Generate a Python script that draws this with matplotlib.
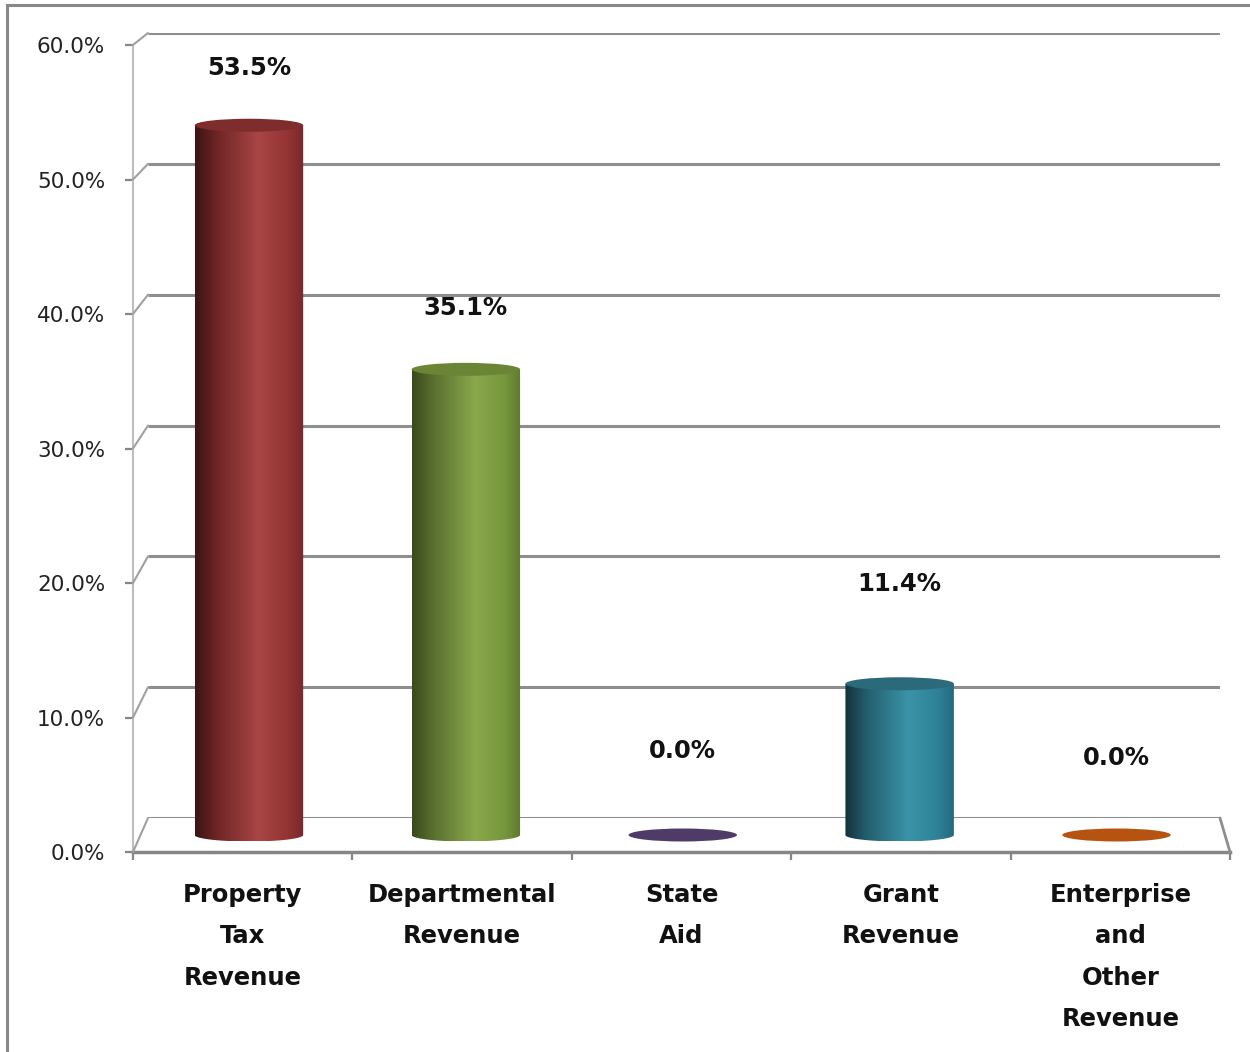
import numpy as np
import matplotlib
matplotlib.use("Agg")
import matplotlib.pyplot as plt
from matplotlib.colors import LinearSegmentedColormap
from matplotlib.patches import Ellipse, Polygon, ConnectionPatch
from matplotlib.lines import Line2D

# revenue share by source
categories = ["Property\nTax\nRevenue", "Departmental\nRevenue", "State\nAid",
              "Grant\nRevenue", "Enterprise\nand\nOther\nRevenue"]
shares = [53.5, 35.1, 0.0, 11.4, 0.0]
y_ticks = [0, 10, 20, 30, 40, 50, 60]

# side shading of each cylinder: dark left edge -> highlight -> right edge
shades = [
    ["#3a1414", "#6e2525", "#a94545", "#943434", "#7a2828"],
    ["#3a4a1c", "#5a7030", "#8aa84c", "#77973c", "#607a30"],
    ["#4e3b68", "#4e3b68", "#4e3b68", "#4e3b68", "#4e3b68"],
    ["#14323c", "#245e6e", "#3a93a8", "#2e8298", "#256a7c"],
    ["#b65310", "#b65310", "#b65310", "#b65310", "#b65310"],
]
cap_colors = ["#7f2c2c", "#6a8536", "#4e3b68", "#2a6a7a", "#b65310"]
label_pad = [4.3, 4.6, 6.3, 7.5, 5.8]

W, H = 1250, 1052
fig = plt.figure(figsize=(W / 100, H / 100), dpi=100)
fig.patch.set_facecolor("white")


def px_axes(x0, x1, y_zero, y_top, ymin=0):
    """axes placed by pixel box (y measured from the top, y_zero = pixel row of 0%)"""
    scale = (y_zero - y_top) / 60
    y_base = y_zero - ymin * scale
    ax = fig.add_axes([x0 / W, 1 - y_base / H, (x1 - x0) / W, (y_base - y_top) / H])
    ax.set_xlim(0, len(categories))
    ax.set_ylim(ymin, 60)
    ax.patch.set_alpha(0)
    return ax


# three planes of the 3-D box: back wall, bar centre line, front edge
back = px_axes(148, 1220, 818, 33)
mid = px_axes(140.5, 1225, 835, 39, ymin=-3)
front = px_axes(133, 1230, 852, 45)

back.axis("off")
back.hlines(y_ticks, 0, len(categories), color="#8e8e8e", lw=2.2)

mid.axis("off")
n = len(categories)
w = 0.25
e = 6.5 / (796 / 60)  # ellipse half-height in data units
t = np.linspace(np.pi, 2 * np.pi, 60)
grad = np.linspace(0, 1, 256)[None, :]
for i, v in enumerate(shares):
    cx = i + 0.5
    if v > 0:
        cmap = LinearSegmentedColormap.from_list(
            f"cyl{i}", list(zip([0, 0.2, 0.58, 0.85, 1], shades[i])))
        img = mid.imshow(grad, cmap=cmap, aspect="auto",
                         extent=(cx - w, cx + w, -e, v), zorder=2)
        pts = np.column_stack([cx + w * np.cos(t), e * np.sin(t)])
        pts = np.vstack([pts, [[cx + w, v], [cx - w, v]]])
        clip = Polygon(pts, closed=True, transform=mid.transData)
        img.set_clip_path(clip)
        mid.add_patch(Ellipse((cx, v), 2 * w, 2 * e, facecolor=cap_colors[i],
                              edgecolor="none", zorder=3))
    else:
        mid.add_patch(Ellipse((cx, 0), 2 * w, 2 * e, facecolor=cap_colors[i],
                              edgecolor="none", zorder=3))
    mid.text(cx, v + label_pad[i], f"{v:.1f}%", ha="center", va="center",
             fontsize=17.5, fontweight="bold", color="#111111", zorder=4)
mid.set_xlim(0, n)

# front axis: ticks, labels, floor edge
for s in ["top", "right"]:
    front.spines[s].set_visible(False)
front.spines["left"].set_color("#bdbdbd")
front.spines["left"].set_linewidth(1.5)
front.spines["bottom"].set_color("#868686")
front.spines["bottom"].set_linewidth(2.5)
front.set_yticks(y_ticks)
front.set_yticklabels([f"{v:.1f}%" for v in y_ticks])
front.tick_params(axis="y", length=6, width=1.6, color="#868686", pad=14,
                  labelsize=15.5, labelcolor="#222222")
front.set_xticks(range(n + 1))
front.set_xticklabels([])
front.set_xticks([i + 0.5 for i in range(n)], minor=True)
front.set_xticklabels(categories, minor=True)
front.tick_params(axis="x", which="major", length=6, width=1.6, color="#868686")
front.tick_params(axis="x", which="minor", length=0, pad=22, labelsize=17.5)
for lab in front.get_xticklabels(minor=True):
    lab.set_fontweight("bold")
    lab.set_linespacing(1.92)
    lab.set_color("#111111")

# depth edges joining front and back planes
for v in y_ticks:
    fig.add_artist(ConnectionPatch((0, v), (0, v), coordsA=front.transData,
                                   coordsB=back.transData, color="#a0a0a0", lw=1.5))
fig.add_artist(ConnectionPatch((n, 0), (n, 0), coordsA=front.transData,
                               coordsB=back.transData, color="#8e8e8e", lw=2))

# chart frame
fig.add_artist(Line2D([7 / W, 7 / W], [0, 1 - 5 / H], color="#888888", lw=2.2,
                      transform=fig.transFigure))
fig.add_artist(Line2D([7 / W, 1], [1 - 5 / H, 1 - 5 / H], color="#888888", lw=2.2,
                      transform=fig.transFigure))

fig.savefig("out.png", dpi=100)
